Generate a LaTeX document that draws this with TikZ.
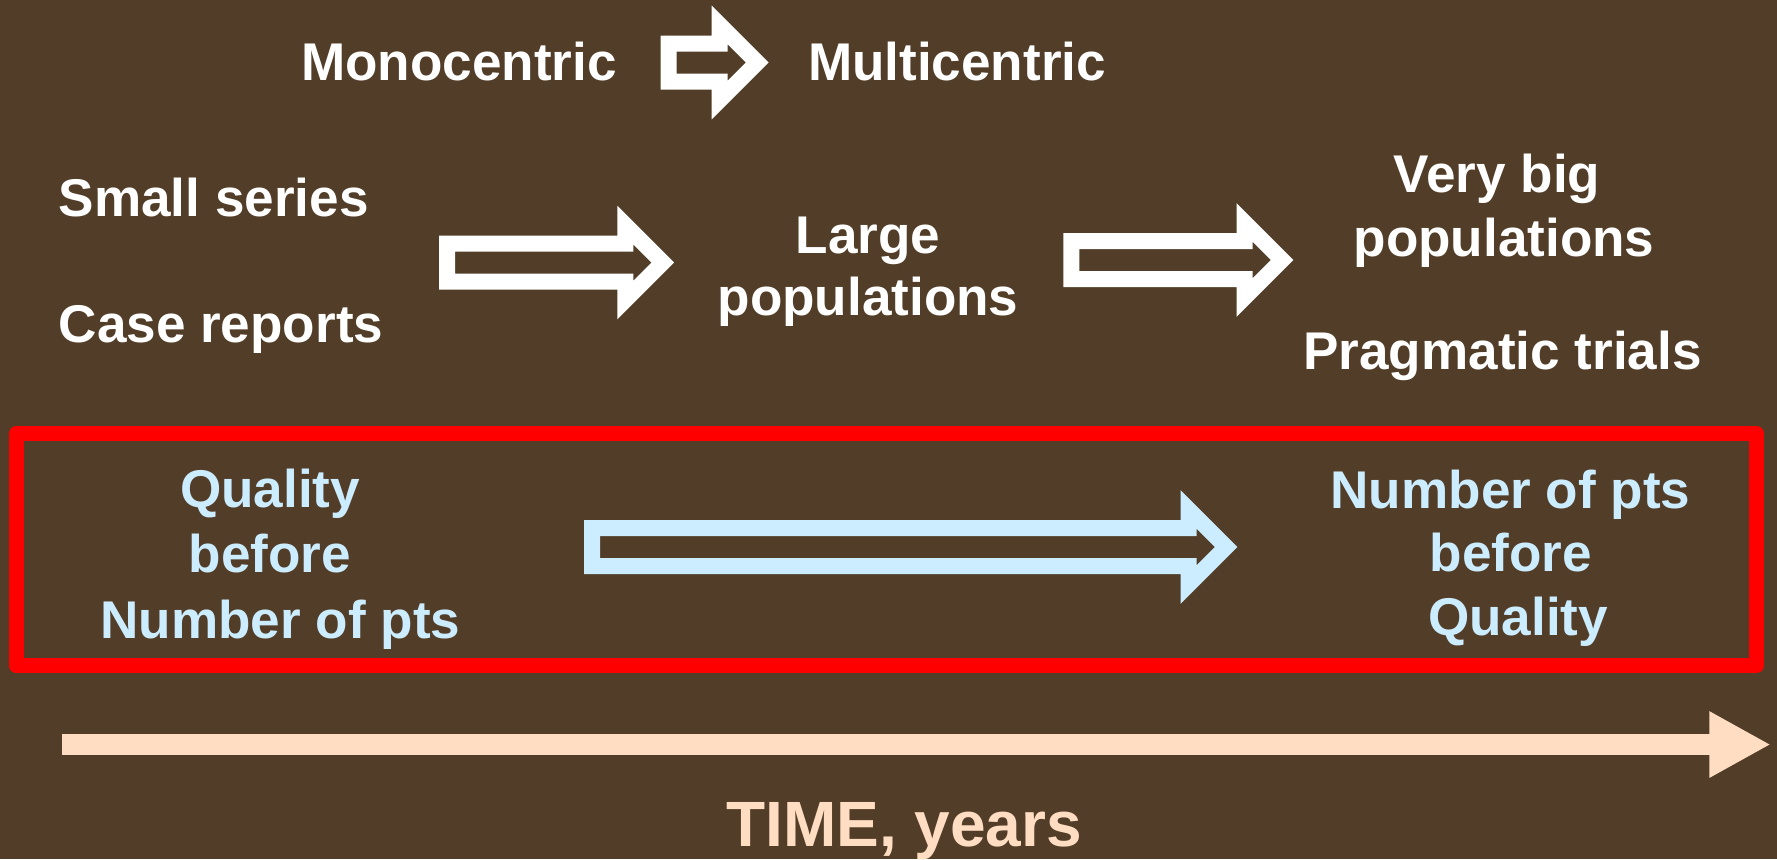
\documentclass[tikz,border=0pt]{standalone}
\usepackage{fontspec}
\setmainfont{Liberation Sans}
\usetikzlibrary{arrows.meta, positioning, calc}
\definecolor{cbrown}{HTML}{523E28}
\definecolor{cblue}{HTML}{CCECFF}
\definecolor{cpeach}{HTML}{FFDDC2}
\definecolor{cred}{HTML}{FF0000}
\tikzset{
  every picture/.style={font=\bfseries},
  wtxt/.style={text=white, inner sep=0pt, anchor=base, font=\fontsize{15.1}{18}\selectfont\bfseries},
  btxt/.style={text=cblue, inner sep=0pt, anchor=base, font=\fontsize{15.1}{18}\selectfont\bfseries},
  hollow/.style={draw=#1, line width=0.16cm, line join=miter},
  hollow/.default=white,
  timeline/.style={-{Triangle[length=0.614cm, width=0.62cm]}, draw=cpeach, line width=0.217cm},
  frame/.style={draw=cred, line width=0.15cm, line join=round},
}
% hollow block arrow: [colour] left end, head base, centre line
\newcommand\hollowarrow[4][white]{%
  \draw[hollow=#1] (#2,#4-19) -- (#3,#4-19) -- (#3,#4-37.5) -- (#3+37.5,#4)
    -- (#3,#4+37.5) -- (#3,#4+19) -- (#2,#4+19) -- cycle;}

\begin{document}
\begin{tikzpicture}[x=0.01cm, y=-0.01cm]
  \fill[cbrown] (0,0) rectangle (1777,859);
  \useasboundingbox (0,0) rectangle (1777,859);
  % top row
  \node[wtxt] (mono) at (459,80) {Monocentric};
  \node[wtxt] (multi) at (957,80) {Multicentric};
  \hollowarrow{668.7}{719.7}{62.5}
  % populations row
  \node[wtxt, anchor=base west] (small) at (58,216) {Small series};
  \node[wtxt, anchor=base west] (case) at (58,342.7) {Case reports};
  \node[wtxt] (large1) at (868,253.3) {Large};
  \node[wtxt] (large2) at (868,315) {populations};
  \node[wtxt] (vbig1) at (1497,192) {Very big};
  \node[wtxt] (vbig2) at (1504,256) {populations};
  \node[wtxt] (prag) at (1502.5,369.5) {Pragmatic trials};
  \hollowarrow{447}{625.3}{262.5}
  \hollowarrow{1071.4}{1244.6}{260}
  % quality versus number
  \draw[frame] (16.5,433.5) rectangle (1756,665.8);
  \foreach \t/\x/\y [count=\i] in {Quality/270/507, before/270/572, Number of pts/280.5/638}
    \node[btxt] (ql\i) at (\x,\y) {\t};
  \foreach \t/\x/\y [count=\i] in {Number of pts/1510.5/508.5, before/1511/571.7, Quality/1518/635}
    \node[btxt] (qr\i) at (\x,\y) {\t};
  \hollowarrow[cblue]{592}{1188.6}{547}
  % time axis
  \coordinate (t0) at (62,744.5);
  \coordinate (t1) at (1770.7,744.5);
  \draw[timeline] (t0) -- (t1);
  \node[text=cpeach, inner sep=0pt, anchor=base, font=\fontsize{18.2}{22}\selectfont\bfseries] (time) at (904,846.7) {TIME, years};
\end{tikzpicture}
\end{document}
